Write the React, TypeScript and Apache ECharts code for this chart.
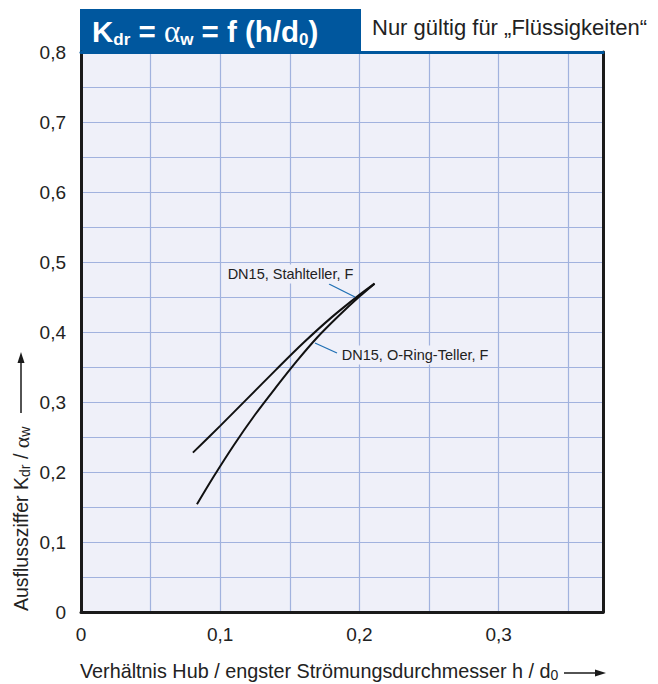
import React, { useEffect, useRef } from "react";
import * as echarts from "echarts";

// ---- data ----
const xTickValues = [0, 0.1, 0.2, 0.3];
const yTickValues = [0, 0.1, 0.2, 0.3, 0.4, 0.5, 0.6, 0.7, 0.8];
const seriesNames = ["DN15, Stahlteller, F", "DN15, O-Ring-Teller, F"];

const stahlX = [0.0804, 0.1, 0.12, 0.14, 0.16, 0.18, 0.2, 0.2109];
const stahlY = [0.2277, 0.2659, 0.3059, 0.3459, 0.3849, 0.4209, 0.4530, 0.4691];

const oringX = [0.0833, 0.095, 0.11, 0.125, 0.14, 0.155, 0.17, 0.185, 0.2, 0.2109];
const oringY = [0.1539, 0.1925, 0.2390, 0.2818, 0.3208, 0.3583, 0.3928, 0.4228, 0.4506, 0.4691];

// annotation anchors (data space)
const stahlLeader = [[0.1782, 0.4686], [0.1968, 0.45]];
const oringLeader = [[0.1681, 0.3843], [0.1839, 0.37]];
const stahlLabelAt = [0.1505, 0.483];
const oringLabelAt = [0.1852, 0.367];

const FONT = "Liberation Sans, Arial, Helvetica, sans-serif";
const BG = "#eff0f9";
const GRIDC = "#a1b2de";
const BLUE = "#00579e";
const INK = "#1a1a1a";

const fmt = (v: number) => {
  if (Math.abs(v * 10 - Math.round(v * 10)) > 1e-6) return "";
  if (Math.abs(v) < 1e-9) return "0";
  return v.toFixed(1).replace(".", ",");
};

const zip = (xs: number[], ys: number[]) => xs.map((x, i) => [x, ys[i]]);

export default function App() {
  const ref = useRef<HTMLDivElement>(null);
  useEffect(() => {
    if (!ref.current) return;
    const chart = echarts.init(ref.current, undefined, { renderer: "svg" });
    const leaderStyle = { color: "#1f6fb4", width: 1.3, type: "solid" };
    const labelBase = {
      show: true,
      fontFamily: FONT,
      fontSize: 14.5,
      color: "#222",
      backgroundColor: BG,
      padding: [2, 3, 2, 3],
    };
    chart.setOption({
      animation: false,
      backgroundColor: "#ffffff",
      grid: {
        left: 81,
        right: 55,
        top: 52,
        bottom: 72,
        show: true,
        backgroundColor: BG,
        borderWidth: 0,
      },
      xAxis: [
        {
          type: "value",
          min: 0,
          max: 0.375,
          interval: 0.05,
          axisLine: { show: true, onZero: false, lineStyle: { color: INK, width: 3 } },
          axisTick: { show: false },
          axisLabel: {
            formatter: (v: number) => fmt(v),
            fontFamily: FONT,
            fontSize: 19,
            color: "#222",
            margin: 13,
            showMaxLabel: false,
          },
          splitLine: { show: true, lineStyle: { color: GRIDC, width: 1.2 } },
        },
        {
          type: "value",
          position: "top",
          min: 0,
          max: 0.375,
          axisLine: { show: true, onZero: false, lineStyle: { color: BLUE, width: 3 } },
          axisTick: { show: false },
          axisLabel: { show: false },
          splitLine: { show: false },
        },
      ],
      yAxis: [
        {
          type: "value",
          min: 0,
          max: 0.8,
          interval: 0.05,
          axisLine: { show: true, onZero: false, lineStyle: { color: INK, width: 3 } },
          axisTick: { show: false },
          axisLabel: {
            formatter: (v: number) => fmt(v),
            fontFamily: FONT,
            fontSize: 19,
            color: "#222",
            margin: 15,
          },
          splitLine: { show: true, lineStyle: { color: GRIDC, width: 1.2 } },
        },
        {
          type: "value",
          position: "right",
          min: 0,
          max: 0.8,
          axisLine: { show: true, onZero: false, lineStyle: { color: INK, width: 3 } },
          axisTick: { show: false },
          axisLabel: { show: false },
          splitLine: { show: false },
        },
      ],
      series: [
        {
          name: seriesNames[0],
          type: "line",
          smooth: 0.3,
          showSymbol: false,
          symbol: "none",
          lineStyle: { color: "#111", width: 2 },
          data: zip(stahlX, stahlY),
          markLine: {
            silent: true,
            symbol: ["none", "none"],
            label: { show: false },
            lineStyle: leaderStyle,
            data: [[{ coord: stahlLeader[0] }, { coord: stahlLeader[1] }]],
          },
          markPoint: {
            symbol: "circle",
            symbolSize: 0,
            silent: true,
            data: [{ coord: stahlLabelAt, value: 0 }],
            label: {
              ...labelBase,
              position: "inside",
              align: "center",
              verticalAlign: "middle",
              formatter: seriesNames[0],
            },
          },
        },
        {
          name: seriesNames[1],
          type: "line",
          smooth: 0.3,
          showSymbol: false,
          symbol: "none",
          lineStyle: { color: "#111", width: 2 },
          data: zip(oringX, oringY),
          markLine: {
            silent: true,
            symbol: ["none", "none"],
            label: { show: false },
            lineStyle: leaderStyle,
            data: [[{ coord: oringLeader[0] }, { coord: oringLeader[1] }]],
          },
          markPoint: {
            symbol: "circle",
            symbolSize: 0,
            silent: true,
            data: [{ coord: oringLabelAt, value: 0 }],
            label: {
              ...labelBase,
              position: "inside",
              align: "left",
              verticalAlign: "middle",
              formatter: seriesNames[1],
            },
          },
        },
      ],
      graphic: [
        {
          type: "rect",
          shape: { x: 80, y: 9, width: 281, height: 43 },
          style: { fill: BLUE },
        },
        {
          type: "text",
          x: 92,
          y: 31,
          style: {
            text: "{b|K}{s|dr}{b| = }{a|α}{s|w}{b| = f (h/d}{s|0}{b|)}",
            verticalAlign: "middle",
            align: "left",
            fill: "#ffffff",
            rich: {
              b: { fontFamily: FONT, fontWeight: "bold", fontSize: 29.5, lineHeight: 33, fill: "#fff", color: "#fff" },
              a: { fontFamily: "Liberation Serif, serif", fontSize: 31, lineHeight: 33, fill: "#fff", color: "#fff" },
              s: { fontFamily: FONT, fontWeight: "bold", fontSize: 17, lineHeight: 17, verticalAlign: "bottom", fill: "#fff", color: "#fff" },
            },
          },
        },
        {
          type: "text",
          x: 372,
          y: 27,
          style: {
            text: "Nur gültig für „Flüssigkeiten“",
            fontFamily: FONT,
            fontSize: 22,
            fill: "#222",
            align: "left",
            verticalAlign: "middle",
          },
        },
        {
          type: "text",
          x: 80,
          y: 671,
          style: {
            text: "{n|Verhältnis Hub / engster Strömungsdurchmesser h / d}{s|0}",
            align: "left",
            verticalAlign: "middle",
            rich: {
              n: { fontFamily: FONT, fontSize: 19.8, lineHeight: 22, fill: "#222", color: "#222" },
              s: { fontFamily: FONT, fontSize: 14, lineHeight: 12, verticalAlign: "bottom", fill: "#222", color: "#222" },
            },
          },
        },
        {
          type: "line",
          shape: { x1: 564, y1: 673, x2: 598, y2: 673 },
          style: { stroke: INK, lineWidth: 1.5 },
        },
        {
          type: "polygon",
          shape: { points: [[606, 673], [595, 669.5], [595, 676.5]] },
          style: { fill: INK },
        },
        {
          type: "text",
          x: 21,
          y: 611,
          rotation: Math.PI / 2,
          style: {
            text: "{n|Ausflussziffer K}{s|dr}{n| / }{a|α}{s|w}",
            align: "left",
            verticalAlign: "middle",
            rich: {
              n: { fontFamily: FONT, fontSize: 19.5, lineHeight: 22, fill: "#222", color: "#222" },
              a: { fontFamily: "Liberation Serif, serif", fontSize: 22, lineHeight: 22, fill: "#222", color: "#222" },
              s: { fontFamily: FONT, fontSize: 14, lineHeight: 12, verticalAlign: "bottom", fill: "#222", color: "#222" },
            },
          },
        },
        {
          type: "line",
          shape: { x1: 21, y1: 413, x2: 21, y2: 360 },
          style: { stroke: INK, lineWidth: 1.5 },
        },
        {
          type: "polygon",
          shape: { points: [[21, 352], [17.5, 363], [24.5, 363]] },
          style: { fill: INK },
        },
      ],
    });
    return () => chart.dispose();
  }, []);
  return (
    <div
      ref={ref}
      style={{ position: "fixed", left: 0, top: 0, width: 658, height: 684, background: "#fff" }}
    />
  );
}
